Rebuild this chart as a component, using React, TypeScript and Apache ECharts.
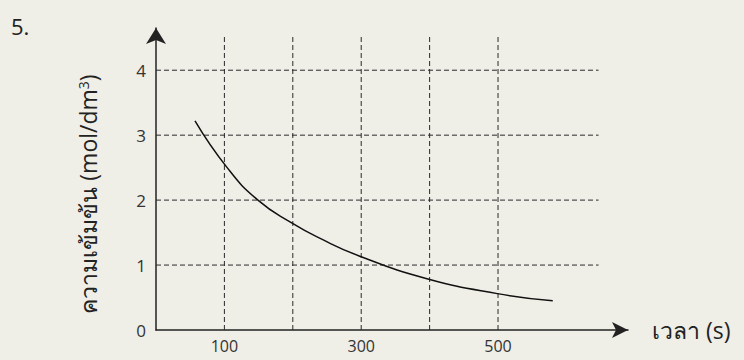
import React, { useEffect, useRef } from "react";
import * as echarts from "echarts";

// Curve: time (s) vs concentration (mol/dm3)
const timeValues = [57, 104, 149, 199, 240, 297, 396, 499, 580];
const concValues = [3.22, 2.5, 2.0, 1.645, 1.41, 1.14, 0.79, 0.56, 0.45];

// Dashed grid
const gridYValues = [1, 2, 3, 4];
const gridXValues = [100, 200, 300, 400, 500];
const gridXEnd = 647;
const gridYEnd = 4.55;

// Tick labels shown
const xTickLabels = [100, 300, 500];
const yTickLabels = [0, 1, 2, 3, 4];

const FONT = "'Open Sans', 'Noto Sans', 'DejaVu Sans', sans-serif";

export default function App() {
  const ref = useRef<HTMLDivElement>(null);
  useEffect(() => {
    if (!ref.current) return;
    const chart = echarts.init(ref.current, undefined, { renderer: "svg" });
    const dashStyle = { color: "#2a2a2a", width: 1, type: [5, 3] as number[] };
    const series: any[] = [];
    gridYValues.forEach((y) => {
      series.push({
        type: "line",
        data: [[0, y], [gridXEnd, y]],
        symbol: "none",
        silent: true,
        lineStyle: dashStyle,
        z: 1,
      });
    });
    gridXValues.forEach((x) => {
      series.push({
        type: "line",
        data: [[x, 0], [x, gridYEnd]],
        symbol: "none",
        silent: true,
        lineStyle: dashStyle,
        z: 1,
      });
    });
    series.push({
      type: "line",
      data: timeValues.map((t, i) => [t, concValues[i]]),
      smooth: 0.5,
      symbol: "none",
      lineStyle: { color: "#111", width: 1.5 },
      z: 3,
    });
    chart.setOption({
      animation: false,
      backgroundColor: "#efeee7",
      textStyle: { fontFamily: FONT },
      grid: { left: 156, right: 116, top: 28, bottom: 30 },
      xAxis: {
        type: "value",
        min: 0,
        max: 690,
        interval: 100,
        name: "เวลา (s)",
        nameLocation: "end",
        nameGap: 24,
        nameTextStyle: { fontSize: 23, color: "#222", fontFamily: FONT },
        axisLine: {
          show: true,
          symbol: ["none", "arrow"],
          symbolSize: [12, 16],
          lineStyle: { color: "#222", width: 1.5 },
        },
        axisTick: { show: false },
        splitLine: { show: false },
        axisLabel: {
          fontSize: 16,
          color: "#333",
          margin: 8,
          formatter: (v: number) => (xTickLabels.includes(v) ? String(v) : ""),
        },
      },
      yAxis: {
        type: "value",
        min: 0,
        max: 4.65,
        interval: 1,
        axisLine: {
          show: true,
          symbol: ["none", "arrow"],
          symbolSize: [15, 16],
          lineStyle: { color: "#222", width: 1.5 },
        },
        axisTick: { show: false },
        splitLine: { show: false },
        axisLabel: {
          fontSize: 17,
          color: "#333",
          margin: 10,
          formatter: (v: number) => (yTickLabels.includes(v) ? String(v) : ""),
        },
      },
      graphic: [
        {
          type: "text",
          left: 11,
          top: 15,
          style: { text: "5.", fontSize: 22, fill: "#222", fontFamily: FONT },
        },
        {
          type: "text",
          x: 88,
          y: 194,
          rotation: Math.PI / 2,
          style: {
            text: "ความเข้มข้น (mol/dm{sup|3})",
            fontSize: 23,
            fill: "#222",
            fontFamily: FONT,
            align: "center",
            verticalAlign: "middle",
            rich: {
              sup: { fontSize: 14, verticalAlign: "top", fontFamily: FONT, fill: "#222" },
            },
          },
        },
      ],
      series,
    });
    return () => chart.dispose();
  }, []);
  return (
    <div
      ref={ref}
      style={{ position: "absolute", left: 0, top: 0, width: 744, height: 360 }}
    />
  );
}
